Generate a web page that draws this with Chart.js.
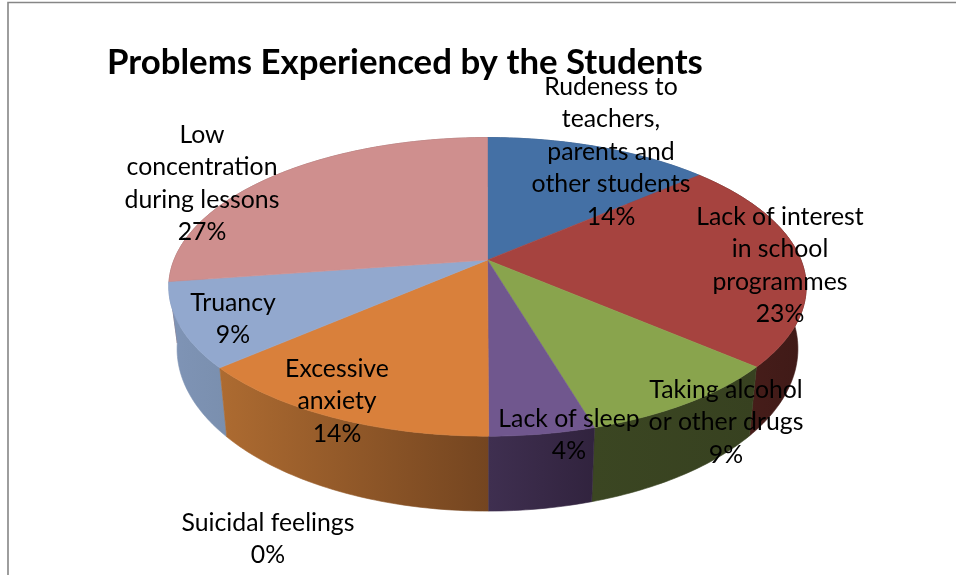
<!DOCTYPE html>
<html>
<head>
<meta charset="utf-8">
<title>Problems Experienced by the Students</title>
<script src="https://cdn.jsdelivr.net/npm/chart.js@4/dist/chart.umd.min.js"></script>
<style>
  html, body { margin: 0; padding: 0; background: #fff; overflow: hidden; }
  canvas { display: block; }
</style>
</head>
<body>
<canvas id="problemsChart" width="956" height="575"></canvas>
<script>
const categories = [
    'Rudeness to teachers, parents and other students',
    'Lack of interest in school programmes',
    'Taking alcohol or other drugs',
    'Lack of sleep',
    'Suicidal feelings',
    'Excessive anxiety',
    'Truancy',
    'Low concentration during lessons'
];
const sliceValues = [13.6, 22.7, 9.1, 4.5, 0, 13.6, 9.1, 27.3];
const percentLabels = ['14%', '23%', '9%', '4%', '0%', '14%', '9%', '27%'];

// styles
const topColors = ['#4470a5', '#a6433f', '#89a44d', '#70578e', '#4198af', '#d9803b', '#92a8ce', '#cf8f8e'];
const wallLeft = ['#30507a', '#4d1f1c', '#3b4622', '#3f2f50', '#2c6878', '#ad6b31', '#7f94b6', '#91605f'];
const wallRight = ['#30507a', '#3f1a17', '#374120', '#31233e', '#2c6878', '#744520', '#7a8fae', '#91605f'];

// label text and where each label is centred on the page
const labelLines = [
    ['Rudeness to', 'teachers,', 'parents and', 'other students'],
    ['Lack of interest', 'in school', 'programmes'],
    ['Taking alcohol', 'or other drugs'],
    ['Lack of sleep'],
    ['Suicidal feelings'],
    ['Excessive', 'anxiety'],
    ['Truancy'],
    ['Low', 'concentration', 'during lessons']
];
const labelCenterX = [611, 780, 726, 569, 268, 337, 233, 202];
const labelFirstY = [87, 217, 390, 419, 523, 369, 303, 135];
const labelLineHeight = 32.5;

// perspective of the tilted pie, in units of the pie radius Chart.js gives us
const perspective = 0.18;
const widthFactor = 1.775;
const heightFactor = 0.818;
// the lower rim is seen a bit narrower and steeper than the upper one
const lowerWidth = 0.974;
const lowerHeight = 1.087;
const lowerDrop = 59.6;

function rimPoint(arc, angle, lower) {
    const r = arc.outerRadius;
    const depth = -Math.sin(angle);
    const d = 1 + perspective * depth;
    const px = widthFactor * r * Math.cos(angle) / d;
    const py = -heightFactor * r * depth / d;
    if (lower) {
        return [arc.x + lowerWidth * px, arc.y + lowerDrop + lowerHeight * py];
    }
    return [arc.x + px, arc.y + py];
}

function rimSamples(arc, lower) {
    const pts = [];
    const n = Math.max(2, Math.ceil((arc.endAngle - arc.startAngle) * 60));
    for (let i = 0; i <= n; i++) {
        pts.push(rimPoint(arc, arc.startAngle + (arc.endAngle - arc.startAngle) * i / n, lower));
    }
    return pts;
}

const tiltedPie = {
    id: 'tiltedPie',
    beforeDraw(chart) {
        // frame of the chart, only top and left are in the crop
        const ctx = chart.ctx;
        ctx.save();
        ctx.strokeStyle = '#868686';
        ctx.lineWidth = 1.6;
        ctx.beginPath();
        ctx.moveTo(8, 575);
        ctx.lineTo(8, 2.5);
        ctx.lineTo(956, 2.5);
        ctx.stroke();
        ctx.restore();
    },
    beforeDatasetDraw(chart) {
        const ctx = chart.ctx;
        const arcs = chart.getDatasetMeta(0).data;
        const order = arcs.map((arc, i) => i).filter(i => sliceValues[i] > 0);

        // walls first, the far ones before the near ones
        order.slice().sort((a, b) => {
            const ma = (arcs[a].startAngle + arcs[a].endAngle) / 2;
            const mb = (arcs[b].startAngle + arcs[b].endAngle) / 2;
            return Math.sin(ma) - Math.sin(mb);
        }).forEach(i => {
            const upper = rimSamples(arcs[i], false);
            const lower = rimSamples(arcs[i], true).reverse();
            const all = upper.concat(lower);
            const xs = all.map(p => p[0]);
            const grad = ctx.createLinearGradient(Math.min(...xs), 0, Math.max(...xs), 0);
            grad.addColorStop(0, wallLeft[i]);
            grad.addColorStop(1, wallRight[i]);
            ctx.beginPath();
            all.forEach((p, j) => j ? ctx.lineTo(p[0], p[1]) : ctx.moveTo(p[0], p[1]));
            ctx.closePath();
            ctx.fillStyle = grad;
            ctx.strokeStyle = grad;
            ctx.lineWidth = 0.6;
            ctx.fill();
            ctx.stroke();
        });

        // then the top face
        order.forEach(i => {
            ctx.beginPath();
            ctx.moveTo(arcs[i].x, arcs[i].y);
            rimSamples(arcs[i], false).forEach(p => ctx.lineTo(p[0], p[1]));
            ctx.closePath();
            ctx.fillStyle = topColors[i];
            ctx.strokeStyle = topColors[i];
            ctx.lineWidth = 0.6;
            ctx.fill();
            ctx.stroke();
        });
        return false; // the flat pie is not wanted
    },
    afterDatasetsDraw(chart) {
        const ctx = chart.ctx;
        ctx.save();
        ctx.fillStyle = '#000';
        ctx.font = '24.8px Lato';
        ctx.textAlign = 'center';
        ctx.textBaseline = 'middle';
        labelLines.forEach((lines, i) => {
            lines.concat(percentLabels[i]).forEach((line, j) => {
                ctx.fillText(line, labelCenterX[i], labelFirstY[i] + j * labelLineHeight);
            });
        });
        ctx.restore();
    }
};

Chart.defaults.font.family = 'Lato';

new Chart(document.getElementById('problemsChart'), {
    type: 'pie',
    data: {
        labels: categories,
        datasets: [{
            data: sliceValues,
            backgroundColor: topColors,
            borderWidth: 0
        }]
    },
    options: {
        responsive: false,
        animation: false,
        layout: {
            padding: { left: 107, right: 88, top: 41.6, bottom: 138.4 }
        },
        plugins: {
            legend: { display: false },
            tooltip: { enabled: false },
            title: {
                display: true,
                text: 'Problems Experienced by the Students',
                align: 'start',
                color: '#000',
                font: { size: 34.8, weight: 'bold' },
                padding: 0
            }
        }
    },
    plugins: [tiltedPie]
});
</script>
</body>
</html>
